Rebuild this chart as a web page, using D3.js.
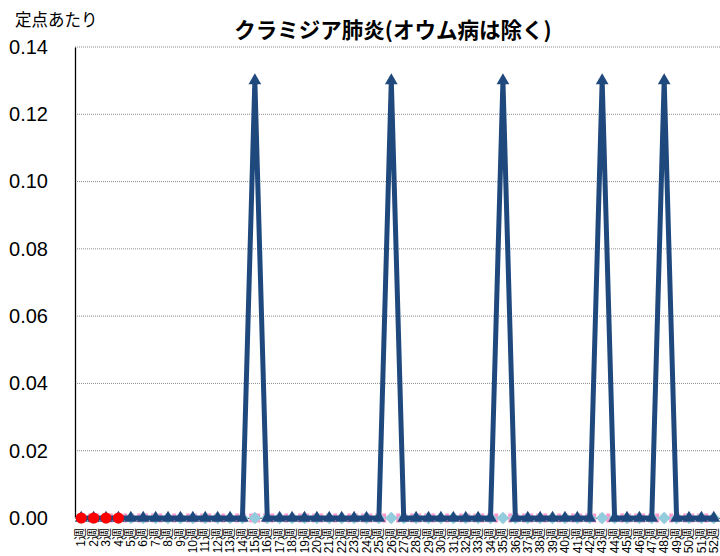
<!DOCTYPE html>
<html>
<head>
<meta charset="utf-8">
<script src="https://cdn.jsdelivr.net/npm/d3@7"></script>
<style>
  body { margin: 0; background: #fff; }
  svg { display: block; }
</style>
</head>
<body>
<script>
const width = 720;
const height = 556;

// week labels on the x axis
const weeks = ["1週","2週","3週","4週","5週","6週","7週","8週","9週","10週",
  "11週","12週","13週","14週","15週","16週","17週","18週","19週","20週",
  "21週","22週","23週","24週","25週","26週","27週","28週","29週","30週",
  "31週","32週","33週","34週","35週","36週","37週","38週","39週","40週",
  "41週","42週","43週","44週","45週","46週","47週","48週","49週","50週",
  "51週","52週"];

// dark blue series (previous season)
const prevYear = [0,0,0,0,0,0,0,0,0,0,
  0,0,0,0,0.13,0,0,0,0,0,
  0,0,0,0,0,0.13,0,0,0,0,
  0,0,0,0,0.13,0,0,0,0,0,
  0,0,0.13,0,0,0,0,0.13,0,0,
  0,0];
// light blue series
const olderYear = [0,0,0,0,0,0,0,0,0,0,
  0,0,0,0,0,0,0,0,0,0,
  0,0,0,0,0,0,0,0,0,0,
  0,0,0,0,0,0,0,0,0,0,
  0,0,0,0,0,0,0,0,0,0,
  0,0];
// pink dashed series
const average = [0,0,0,0,0,0,0,0,0,0,
  0,0,0,0,0,0,0,0,0,0,
  0,0,0,0,0,0,0,0,0,0,
  0,0,0,0,0,0,0,0,0,0,
  0,0,0,0,0,0,0,0,0,0,
  0,0];
// red series (this season so far)
const thisYear = [0,0,0,0];

const yTicks = [0,0.02,0.04,0.06,0.08,0.10,0.12,0.14];

const margin = {top: 47, right: 0, bottom: 38, left: 75};

const svg = d3.select('body').append('svg').attr('width', width).attr('height', height);

const x = d3.scaleBand().domain(weeks).range([margin.left, width - margin.right]);
const y = d3.scaleLinear().domain([0, 0.14]).range([height - margin.bottom, margin.top]);
const cx = d => x(d) + x.bandwidth() / 2;

//gridlines
svg.selectAll("line.grid")
  .data(yTicks.filter(d => d > 0))
  .enter()
  .append("line")
  .attr("class", "grid")
  .attr("x1", margin.left)
  .attr("x2", width - margin.right)
  .attr("y1", d => y(d))
  .attr("y2", d => y(d))
  .style("stroke", "#8c8c8c")
  .style("stroke-width", 1)
  .style("stroke-dasharray", "1,1");

// y axis
const yAxis = svg.append("g")
  .attr("transform", `translate(${margin.left},0)`)
  .call(d3.axisLeft(y).tickValues(yTicks).tickFormat(d3.format(".2f")).tickSize(0).tickPadding(27));
yAxis.select(".domain").style("stroke", "#000").style("stroke-width", 1.3);
yAxis.selectAll("text")
  .style("font-family", "'Liberation Sans', Arial, sans-serif")
  .style("font-size", "20px")
  .style("fill", "#000");

// x axis
const xAxis = svg.append("g")
  .attr("transform", `translate(0,${y(0)})`)
  .call(d3.axisBottom(x).tickSize(0).tickPadding(0));
xAxis.select(".domain").style("stroke", "#000");
xAxis.selectAll("text")
  .attr("transform", "rotate(-90)")
  .attr("text-anchor", "end")
  .attr("x", -10)
  .attr("y", 0)
  .attr("dy", "0.35em")
  .style("font-family", "'Liberation Sans', 'Noto Sans CJK JP', sans-serif")
  .style("font-size", "12px")
  .style("fill", "#000");

const line = d3.line().x((d, i) => cx(weeks[i])).y(d => y(d));

// pink dashed line (behind)
svg.append("path")
  .datum(average)
  .attr("d", line)
  .style("fill", "none")
  .style("stroke", "#ff99cc")
  .style("stroke-width", 9)
  .style("stroke-dasharray", "4,3");

// light blue diamonds
svg.selectAll("path.older")
  .data(olderYear)
  .enter()
  .append("path")
  .attr("class", "older")
  .attr("d", d3.symbol(d3.symbolSquare, 80))
  .attr("transform", (d, i) => `translate(${cx(weeks[i])},${y(d)}) rotate(45)`)
  .style("fill", "#93cddd");

// dark blue line with triangles
svg.append("path")
  .datum(prevYear)
  .attr("d", line)
  .style("fill", "none")
  .style("stroke", "#1f497d")
  .style("stroke-width", 5)
  .style("stroke-linejoin", "round");

svg.selectAll("path.prev")
  .data(prevYear)
  .enter()
  .append("path")
  .attr("class", "prev")
  .attr("d", d3.symbol(d3.symbolTriangle, 70))
  .attr("transform", (d, i) => `translate(${cx(weeks[i])},${y(d)})`)
  .style("fill", "#1f497d");

// red circles
svg.selectAll("circle.now")
  .data(thisYear)
  .enter()
  .append("circle")
  .attr("class", "now")
  .attr("cx", (d, i) => cx(weeks[i]))
  .attr("cy", d => y(d))
  .attr("r", 5.5)
  .style("fill", "#ff0000");

// title
svg.append("text")
  .attr("x", 393)
  .attr("y", 38)
  .attr("text-anchor", "middle")
  .style("font-family", "'Noto Sans CJK JP', sans-serif")
  .style("font-weight", "bold")
  .style("font-size", "21.5px")
  .text("クラミジア肺炎(オウム病は除く)");

// y label
svg.append("text")
  .attr("x", 15)
  .attr("y", 26)
  .style("font-family", "'Noto Sans CJK JP', sans-serif")
  .style("font-size", "16.5px")
  .text("定点あたり");
</script>
</body>
</html>
